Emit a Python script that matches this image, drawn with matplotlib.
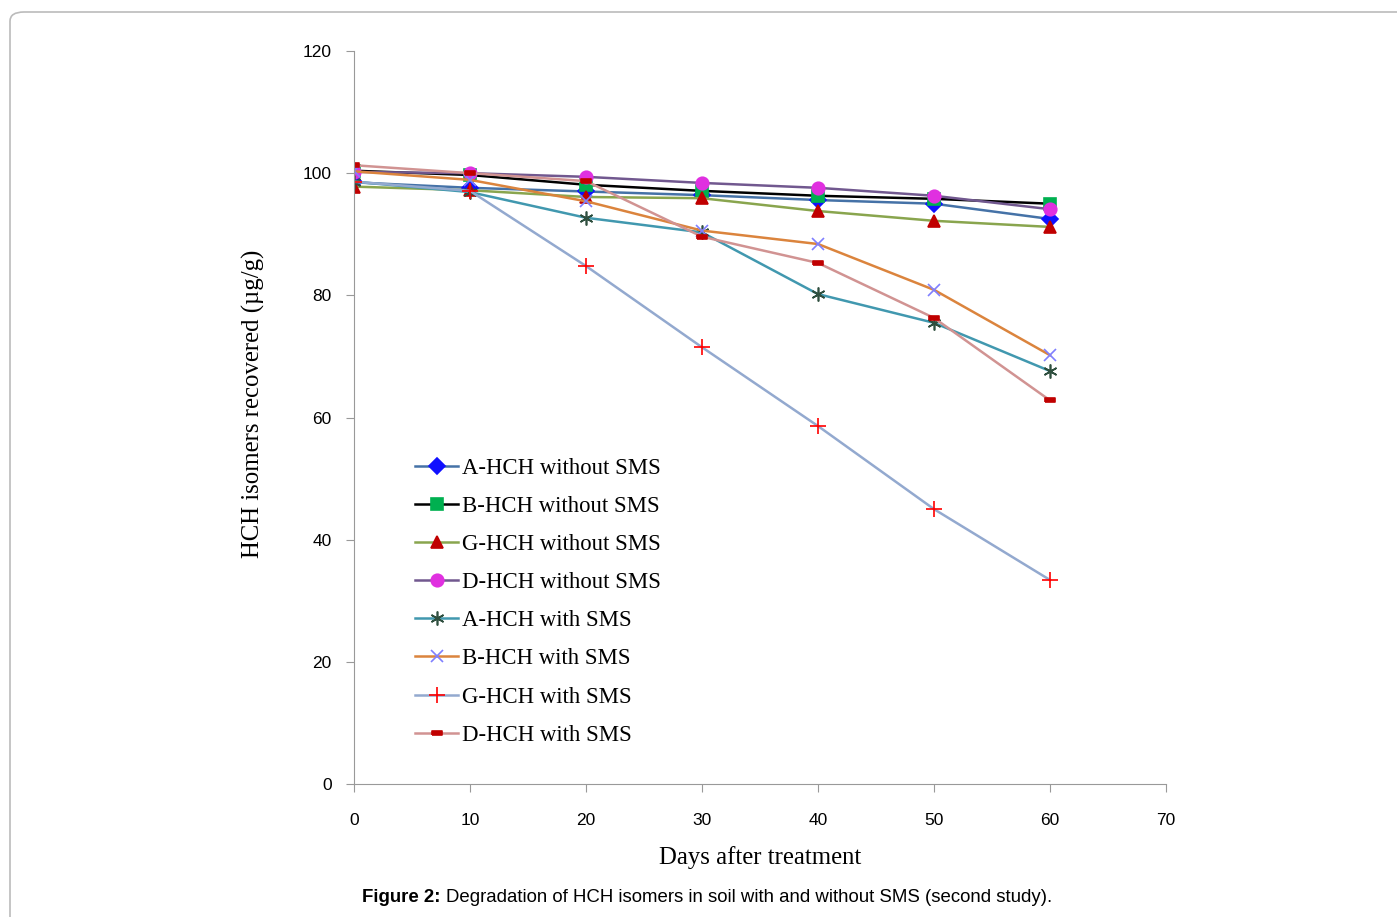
import matplotlib.pyplot as plt
from matplotlib.patches import FancyBboxPatch

days = [0, 10, 20, 30, 40, 50, 60]

a_without = [98.5, 97.6, 97.0, 96.4, 95.6, 95.0, 92.5]
b_without = [100.4, 99.7, 98.1, 97.1, 96.3, 95.8, 95.0]
g_without = [97.8, 97.2, 96.1, 95.9, 93.8, 92.2, 91.2]
d_without = [100.2, 100.0, 99.4, 98.4, 97.6, 96.3, 94.1]
a_with = [98.6, 96.9, 92.7, 90.3, 80.2, 75.5, 67.6]
b_with = [100.3, 98.9, 95.4, 90.6, 88.4, 80.9, 70.2]
g_with = [98.6, 97.1, 84.8, 71.5, 58.6, 45.0, 33.4]
d_with = [101.3, 100.0, 98.7, 89.6, 85.3, 76.3, 62.8]

labels = ['A-HCH without SMS', 'B-HCH without SMS', 'G-HCH without SMS',
          'D-HCH without SMS', 'A-HCH with SMS', 'B-HCH with SMS',
          'G-HCH with SMS', 'D-HCH with SMS']

rect = [(-1, -0.5), (1, -0.5), (1, 0.5), (-1, 0.5), (-1, -0.5)]

# (values, line colour, marker, marker colour, marker size)
series = [
    (a_without, '#4572A7', 'D', '#1010FF', 8),
    (b_without, '#000000', 's', '#00B050', 8),
    (g_without, '#89A54E', '^', '#C00000', 9),
    (d_without, '#71588F', 'o', '#E030E0', 9),
    (a_with, '#4198AF', (6, 2, 0), '#2F4F3F', 10),
    (b_with, '#DB843D', 'x', '#7F7FFF', 9),
    (g_with, '#93A9CF', '+', '#FF0000', 11),
    (d_with, '#D19392', rect, '#C00000', 6.5),
]

fig = plt.figure(figsize=(13.97, 9.17), dpi=100)
border = FancyBboxPatch((10 / 1397, -0.05), 1.1, (917 - 12) / 917 + 0.05,
                        boxstyle='round,pad=0,rounding_size=0.01',
                        transform=fig.transFigure, facecolor='none',
                        edgecolor='#BBBBBB', linewidth=1.2)
fig.patches.append(border)

ax = fig.add_axes([354 / 1397, 1 - 784 / 917, (1166 - 354) / 1397, (784 - 51) / 917])

for (vals, lc, mk, mc, ms), lab in zip(series, labels):
    ax.plot(days, vals, color=lc, linewidth=1.8, marker=mk, markersize=ms,
            markerfacecolor=mc, markeredgecolor=mc, markeredgewidth=1.2,
            label=lab)

ax.set_xlim(0, 70)
ax.set_ylim(0, 120)
ax.set_xticks(range(0, 71, 10))
ax.set_yticks(range(0, 121, 20))
for s in ['top', 'right']:
    ax.spines[s].set_visible(False)
for s in ['left', 'bottom']:
    ax.spines[s].set_color('#999999')
ax.tick_params(axis='both', colors='#999999', labelcolor='black', length=6,
               labelsize=12.5)
ax.tick_params(axis='x', pad=15)
ax.tick_params(axis='y', pad=10)
for t in ax.get_xticklabels() + ax.get_yticklabels():
    t.set_family('Liberation Sans')

ax.set_xlabel('Days after treatment', family='Liberation Serif', fontsize=17.8,
              labelpad=13)
ax.set_ylabel('HCH isomers recovered (µg/g)', family='Liberation Serif',
              fontsize=17.8)
ax.yaxis.set_label_coords(-0.1096, 0.518)

ax.legend(loc='upper left', bbox_to_anchor=(0.075, 0.4447), frameon=False,
          prop={'family': 'Liberation Serif', 'size': 16.4}, handlelength=1.9,
          handletextpad=0.15, labelspacing=0.75, borderaxespad=0,
          borderpad=0)

fig.text(362 / 1397, 1 - 897 / 917, 'Figure 2:', family='Liberation Sans',
         fontweight='bold', fontsize=13.4, va='center')
fig.text(446 / 1397, 1 - 897 / 917,
         'Degradation of HCH isomers in soil with and without SMS (second study).',
         family='Liberation Sans', fontsize=13.4, va='center')

fig.savefig('out.png', dpi=100)
